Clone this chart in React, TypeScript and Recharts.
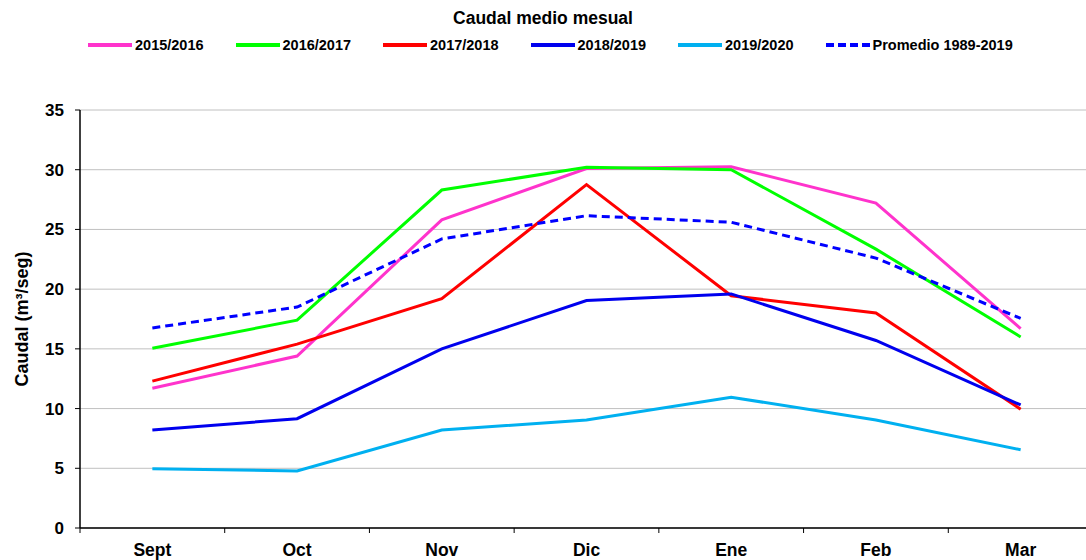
import React from "react";
import {
  CartesianGrid,
  Line,
  LineChart,
  XAxis,
  YAxis,
} from "recharts";

const months = ["Sept", "Oct", "Nov", "Dic", "Ene", "Feb", "Mar"];
const s2015 = [11.7, 14.4, 25.8, 30.1, 30.25, 27.2, 16.7];
const s2016 = [15.05, 17.4, 28.3, 30.2, 30.0, 23.35, 16.0];
const s2017 = [12.3, 15.4, 19.2, 28.75, 19.45, 18.0, 9.95];
const s2018 = [8.2, 9.15, 15.0, 19.05, 19.6, 15.7, 10.3];
const s2019 = [4.97, 4.77, 8.2, 9.05, 10.95, 9.05, 6.55];
const promedio = [16.75, 18.5, 24.2, 26.15, 25.6, 22.6, 17.55];
const yTicks = [0, 5, 10, 15, 20, 25, 30, 35];

const series = [
  { key: "s2015", name: "2015/2016", color: "#ff33cc", dash: undefined },
  { key: "s2016", name: "2016/2017", color: "#00ff00", dash: undefined },
  { key: "s2017", name: "2017/2018", color: "#ff0000", dash: undefined },
  { key: "s2018", name: "2018/2019", color: "#0000ee", dash: undefined },
  { key: "s2019", name: "2019/2020", color: "#00b0f0", dash: undefined },
  { key: "promedio", name: "Promedio 1989-2019", color: "#0000ff", dash: "8 5" },
];

const data = months.map((m, i) => ({
  month: m,
  s2015: s2015[i],
  s2016: s2016[i],
  s2017: s2017[i],
  s2018: s2018[i],
  s2019: s2019[i],
  promedio: promedio[i],
}));

const FONT = "'Liberation Sans', Arial, sans-serif";
const CHART_W = 1093;
const CHART_H = 560;
const PLOT_LEFT = 80;
const STEP = (CHART_W - PLOT_LEFT) / months.length;

function MonthTick(props: any) {
  const { x, y, payload, index } = props;
  const top = y - 8;
  return (
    <g>
      <line x1={x - STEP / 2} x2={x - STEP / 2} y1={top} y2={top + 5} stroke="#000" />
      {index === months.length - 1 && (
        <line x1={x + STEP / 2} x2={x + STEP / 2} y1={top} y2={top + 5} stroke="#000" />
      )}
      <text
        x={x}
        y={top + 28}
        textAnchor="middle"
        fontFamily={FONT}
        fontWeight="bold"
        fontSize={17.5}
        fill="#000"
      >
        {payload.value}
      </text>
    </g>
  );
}

export default function App() {
  return (
    <div
      style={{
        position: "absolute",
        left: 0,
        top: 0,
        width: 1086,
        height: 560,
        overflow: "hidden",
        background: "#fff",
        fontFamily: FONT,
      }}
    >
      <div
        style={{
          position: "absolute",
          top: 7,
          left: 0,
          width: 1086,
          textAlign: "center",
          fontWeight: "bold",
          fontSize: 17.5,
          lineHeight: "22px",
        }}
      >
        Caudal medio mesual
      </div>
      <div
        style={{
          position: "absolute",
          top: 36,
          left: 88,
          display: "flex",
          alignItems: "center",
          height: 18,
        }}
      >
        {series.map((s, i) => (
          <div
            key={s.key}
            style={{
              display: "flex",
              alignItems: "center",
              width: i === series.length - 1 ? "auto" : 147.5,
              flexShrink: 0,
            }}
          >
            <svg width={44} height={6} style={{ display: "block", flexShrink: 0 }}>
              <line
                x1={0}
                x2={44}
                y1={3}
                y2={3}
                stroke={s.color}
                strokeWidth={4}
                strokeDasharray={s.dash ? "8 4" : undefined}
              />
            </svg>
            <span
              style={{
                marginLeft: 3,
                fontWeight: "bold",
                fontSize: 14.5,
                whiteSpace: "nowrap",
              }}
            >
              {s.name}
            </span>
          </div>
        ))}
      </div>
      <div style={{ position: "absolute", left: 0, top: 0 }}>
        <LineChart
          width={CHART_W}
          height={CHART_H}
          data={data}
          margin={{ top: 110, right: 0, bottom: 0, left: 0 }}
        >
          <CartesianGrid stroke="#c0c0c0" vertical={false} />
          <XAxis
            dataKey="month"
            padding={{ left: STEP / 2, right: STEP / 2 }}
            axisLine={{ stroke: "#000", strokeWidth: 1.5 }}
            tickLine={false}
            tick={<MonthTick />}
            interval={0}
            height={32}
          />
          <YAxis
            width={PLOT_LEFT}
            domain={[0, 35]}
            ticks={yTicks}
            axisLine={{ stroke: "#000", strokeWidth: 1.5 }}
            tickLine={{ stroke: "#000" }}
            tickSize={5}
            tickMargin={11}
            tick={{
              fill: "#000",
              fontSize: 17,
              fontWeight: "bold",
              fontFamily: FONT,
            }}
            label={{
              value: "Caudal (m³/seg)",
              angle: -90,
              position: "insideLeft",
              offset: 22,
              style: {
                textAnchor: "middle",
                fontWeight: "bold",
                fontSize: 18,
                fontFamily: FONT,
                fill: "#000",
              },
            }}
          />
          {series.map((s) => (
            <Line
              key={s.key}
              type="linear"
              dataKey={s.key}
              name={s.name}
              stroke={s.color}
              strokeWidth={3}
              strokeDasharray={s.dash}
              dot={false}
              activeDot={false}
              isAnimationActive={false}
            />
          ))}
        </LineChart>
      </div>
    </div>
  );
}
